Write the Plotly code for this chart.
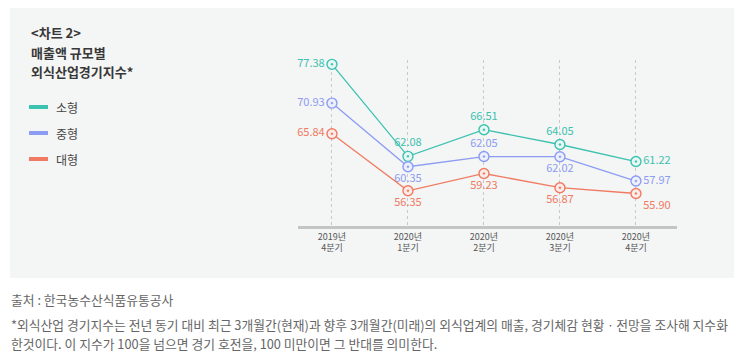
import plotly.graph_objects as go

# ---- data ----
categories = ["2019년<br>4분기", "2020년<br>1분기", "2020년<br>2분기", "2020년<br>3분기", "2020년<br>4분기"]
series_names = ["소형", "중형", "대형"]
small_vals = [77.38, 62.08, 66.51, 64.05, 61.22]
medium_vals = [70.93, 60.35, 62.05, 62.02, 57.97]
large_vals = [65.84, 56.35, 59.23, 56.87, 55.90]
title_lines = ["&lt;차트 2&gt;", "매출액 규모별", "외식산업경기지수*"]
source_text = "출처 : 한국농수산식품유통공사"
note_lines = [
    "*외식산업 경기지수는 전년 동기 대비 최근 3개월간(현재)과 향후 3개월간(미래)의 외식업계의 매출, 경기체감 현황ㆍ전망을 조사해 지수화",
    "한것이다. 이 지수가 100을 넘으면 경기 호전을, 100 미만이면 그 반대를 의미한다.",
]

colors = ["#3cc2b0", "#8c9cf2", "#f07a62"]
pale = ["#e6f7f4", "#eceffd", "#fdebe7"]
label_pos = [
    ["middle left", "top center", "top center", "top center", "middle right"],
    ["middle left", "bottom center", "top center", "bottom center", "middle right"],
    ["middle left", "bottom center", "bottom center", "bottom center", "bottom right"],
]

OFF = 8  # page body margin
W, H = 744 - OFF, 364 - OFF
L, R, T, B = 298, 677, 60, 226  # plot area in reference pixels
FONT = "Noto Sans CJK KR"


def px(x):
    return (x - L) / (R - L)


def py(y):
    return (B - y) / (B - T)


fig = go.Figure()
for i, (name, vals) in enumerate(zip(series_names, [small_vals, medium_vals, large_vals])):
    fig.add_trace(go.Scatter(
        x=list(range(len(categories))), y=vals, mode="lines+markers+text",
        name=name, showlegend=False,
        line=dict(color=colors[i], width=1.3),
        marker=dict(symbol="circle-dot", size=10, color=pale[i],
                    line=dict(color=colors[i], width=1.4)),
        text=[f"{v:.2f}" for v in vals], textposition=label_pos[i],
        textfont=dict(family=FONT, size=11, color=colors[i]),
        cliponaxis=False,
    ))

fig.update_xaxes(
    range=[-0.447, 4.54], tickvals=list(range(len(categories))), ticktext=categories,
    showgrid=True, gridcolor="#c9c9c9", griddash="dot", gridwidth=1,
    showline=True, linecolor="#c4c4c4", linewidth=2.5, zeroline=False,
    ticks="", tickfont=dict(family=FONT, size=9, color="#555555"),
    fixedrange=True,
)
fig.update_yaxes(range=[50.5, 78.1], visible=False, showgrid=False, zeroline=False)

shapes = [dict(type="rect", xref="paper", yref="paper", layer="below",
               x0=px(10), x1=px(734), y0=py(278), y1=py(6),
               fillcolor="#f4f5f5", line=dict(width=0))]

annotations = []
for j, (txt, yy) in enumerate(zip(title_lines, [33, 52, 71])):
    annotations.append(dict(text=txt, xref="paper", yref="paper", x=px(29), y=py(yy),
                            xanchor="left", yanchor="middle", align="left", showarrow=False,
                            font=dict(family=FONT, size=13, color="#383838", weight="bold")))
for txt, yy in zip([source_text] + note_lines, [299, 324, 343]):
    annotations.append(dict(text=txt, xref="paper", yref="paper", x=px(9), y=py(yy),
                            xanchor="left", yanchor="middle", align="left", showarrow=False,
                            font=dict(family=FONT, size=12.8, color="#666666")))

# legend (swatch + label)
legend_y = [107, 133, 159]
for i, name in enumerate(series_names):
    shapes.append(dict(type="line", xref="paper", yref="paper",
                       x0=px(29), x1=px(48), y0=py(legend_y[i]), y1=py(legend_y[i]),
                       line=dict(color=colors[i], width=4)))
    annotations.append(dict(text=name, xref="paper", yref="paper",
                            x=px(54), y=py(legend_y[i]), xanchor="left", yanchor="middle",
                            showarrow=False, font=dict(family=FONT, size=12, color="#444444")))

fig.update_layout(
    width=W, height=H,
    margin=dict(l=L - OFF, r=744 - R, t=T - OFF, b=364 - B, pad=0),
    paper_bgcolor="white", plot_bgcolor="rgba(0,0,0,0)",
    shapes=shapes, annotations=annotations, showlegend=False,
    font=dict(family=FONT),
)

fig.write_html("out.html")
